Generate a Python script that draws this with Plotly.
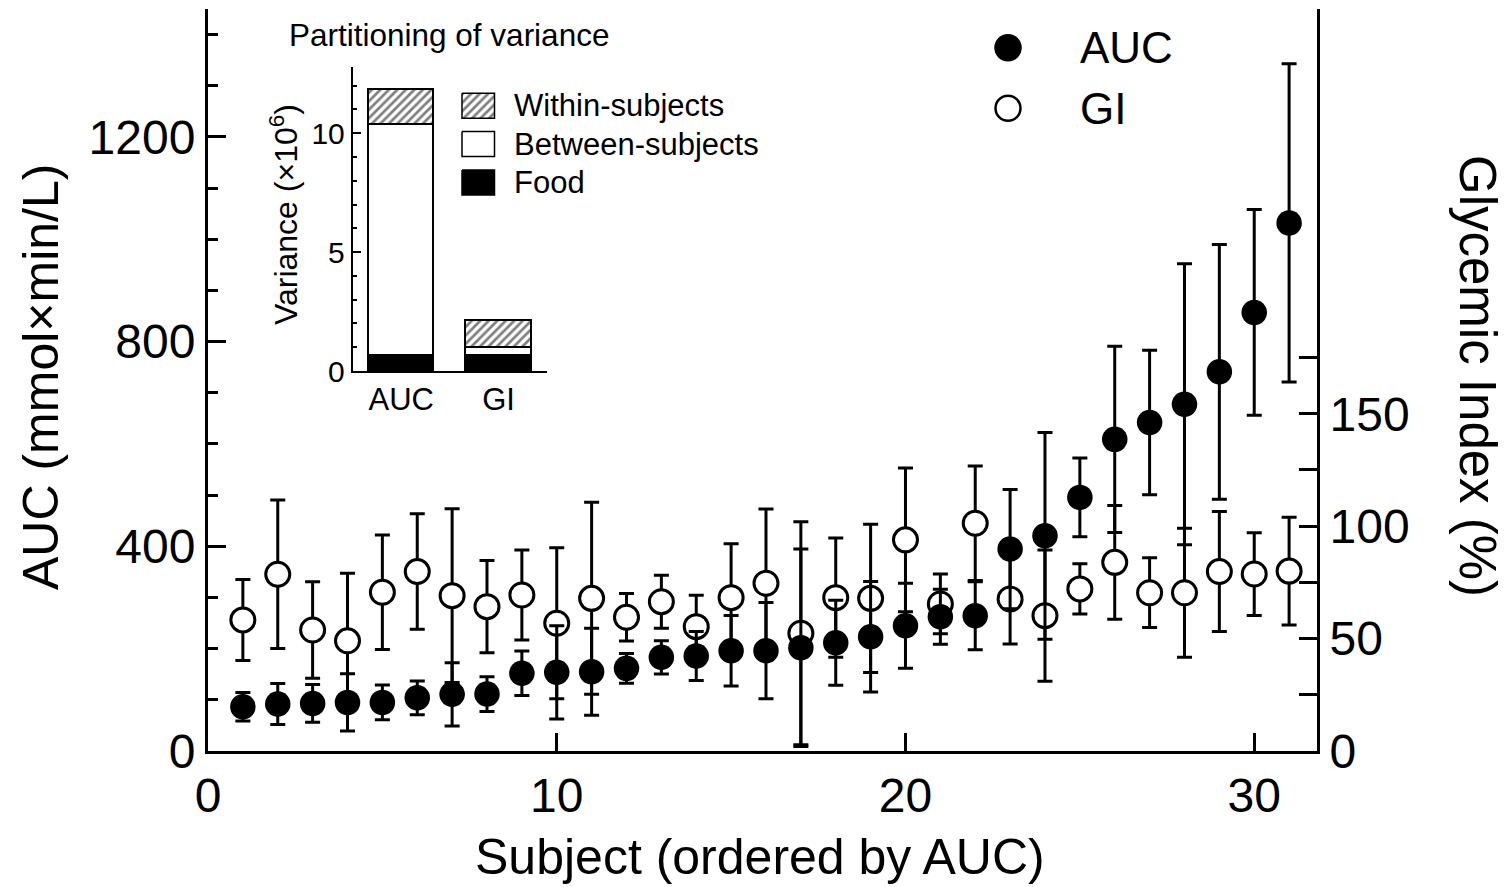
import plotly.graph_objects as go

# ---------------- data ----------------
subjects = list(range(1, 32))
auc_mean = [86.5, 91.8, 93, 95, 95, 104, 110.7, 111.3, 151.8, 153.7, 155, 161.5, 183, 185.6,
            196, 196, 201.8, 211.6, 223.3, 244.8, 262.4, 264.3, 394.6, 420.6, 495.6, 609,
            642, 677.5, 741, 857, 1032]
auc_sd = [28, 40, 37, 56, 34, 33, 62, 34, 43.5, 91, 85, 29, 32.5, 48, 69, 94, 193, 83, 108,
          83, 53.7, 66.5, 116.5, 202, 77, 182, 141, 274.5, 249, 201, 311]
gi_mean = [58.3, 78.6, 53.8, 49, 70.6, 79.8, 69.1, 64.2, 69.4, 56.8, 67.9, 59.5, 66.4, 55.3,
           68.2, 74.6, 52.4, 68.2, 67.9, 93.9, 65.4, 101.3, 67.6, 60.2, 72.1, 83.9, 70.4,
           70.4, 79.8, 78.7, 80]
gi_sd = [18, 33, 21.5, 30, 25.5, 25.7, 38.6, 20.5, 20, 33.6, 42.7, 10.6, 11.8, 14, 24, 33,
         49.6, 26.5, 33, 32, 13.3, 25.5, 20, 29.2, 11.2, 25.3, 15.5, 28.7, 26.7, 18.4, 24]

var_categories = ["AUC", "GI"]
var_food = [0.63, 0.63]
var_between = [9.75, 0.37]
var_within = [1.44, 1.12]

x_ticks = [0, 10, 20, 30]
auc_ticks = [0, 400, 800, 1200]
gi_ticks = [0, 50, 100, 150]
gi_minor_ticks = [25, 75, 125, 175]
var_ticks = [0, 5, 10]

# ---------------- layout helpers ----------------
W, H = 1510, 887
L, R, T, B = 208, 1317, 9, 751


def fx(px):
    return (px - L) / (R - L)


def fy(py):
    return (B - py) / (B - T)


FONT = "Liberation Sans, Arial, Helvetica, sans-serif"
hatch = dict(shape="/", size=6, solidity=0.45, fgcolor="black", bgcolor="white")
CLEAR = "rgba(0,0,0,0)"

fig = go.Figure()

# GI (right axis) drawn first so AUC sits on top
fig.add_trace(go.Scatter(
    x=subjects, y=gi_mean, mode="markers", xaxis="x", yaxis="y",
    error_y=dict(type="data", array=gi_sd, visible=True, color="black", thickness=3, width=7.5),
    marker=dict(symbol="circle", size=24, color="white", line=dict(color="black", width=3)),
    cliponaxis=False,
))
fig.add_trace(go.Scatter(
    x=subjects, y=auc_mean, mode="markers", xaxis="x", yaxis="y2",
    error_y=dict(type="data", array=auc_sd, visible=True, color="black", thickness=3, width=7.5),
    marker=dict(symbol="circle", size=25.5, color="black", line=dict(width=0)),
    cliponaxis=False,
))

# inset stacked bars
fig.add_trace(go.Bar(x=var_categories, y=var_food, xaxis="x3", yaxis="y3", width=0.67,
                     marker=dict(color="black", line=dict(color="black", width=1.5))))
fig.add_trace(go.Bar(x=var_categories, y=var_between, xaxis="x3", yaxis="y3", width=0.67,
                     marker=dict(color="white", line=dict(color="black", width=1.5))))
fig.add_trace(go.Bar(x=var_categories, y=var_within, xaxis="x3", yaxis="y3", width=0.67,
                     marker=dict(color="white", line=dict(color="black", width=1.5), pattern=hatch)))

# legend glyphs on a pixel overlay axis
fig.add_trace(go.Scatter(x=[1008], y=[47.7], mode="markers", xaxis="x4", yaxis="y4",
                         marker=dict(size=27.5, color="black", line=dict(width=0)), cliponaxis=False))
fig.add_trace(go.Scatter(x=[1008], y=[108.3], mode="markers", xaxis="x4", yaxis="y4",
                         marker=dict(size=25, color="white", line=dict(color="black", width=2.5)),
                         cliponaxis=False))

patch_x0, patch_x1 = 462, 494.5
patch_rows = [(105.8, "pattern"), (144, "white"), (182.5, "black")]
for yc, kind in patch_rows:
    xs = [patch_x0, patch_x1, patch_x1, patch_x0, patch_x0]
    ys = [yc - 12.5, yc - 12.5, yc + 12.5, yc + 12.5, yc - 12.5]
    kw = dict(x=xs, y=ys, mode="lines", fill="toself", xaxis="x4", yaxis="y4",
              line=dict(color="black", width=1.5))
    if kind == "pattern":
        kw.update(fillcolor="white", fillpattern=hatch)
    else:
        kw.update(fillcolor=kind)
    fig.add_trace(go.Scatter(**kw))

axis_common = dict(showgrid=False, zeroline=False, linecolor="black", tickcolor="black",
                   showline=True)

fig.update_layout(
    width=W, height=H,
    margin=dict(l=L, r=W - R, t=T, b=H - B),
    paper_bgcolor="white", plot_bgcolor=CLEAR,
    showlegend=False, barmode="stack", bargap=0,
    font=dict(family=FONT, color="black"),
    xaxis=dict(domain=[0, 1], range=[0, 31.8], tickmode="array", tickvals=x_ticks,
               ticks="inside", ticklen=18, tickwidth=3, linewidth=3,
               tickfont=dict(size=48, family=FONT), anchor="y", **axis_common),
    yaxis=dict(domain=[0, 1], side="right", range=[0, 330], tickmode="array",
               tickvals=gi_ticks, ticks="inside", ticklen=18, tickwidth=3, linewidth=3,
               minor=dict(tickmode="array", tickvals=gi_minor_ticks, ticks="inside",
                          ticklen=18, tickwidth=3, tickcolor="black"),
               tickfont=dict(size=48, family=FONT), anchor="x", **axis_common),
    yaxis2=dict(side="left", overlaying="y", range=[0, 1450], tickmode="array",
                tickvals=auc_ticks, ticks="inside", ticklen=18, tickwidth=3, linewidth=3,
                minor=dict(dtick=100, ticks="inside", ticklen=10, tickwidth=3, tickcolor="black"),
                tickfont=dict(size=48, family=FONT), anchor="x", **axis_common),
    xaxis3=dict(domain=[fx(352.5), fx(547.3)], anchor="y3", range=[-0.5, 1.5], ticks="",
                linewidth=1.5, tickfont=dict(size=31, family=FONT), **axis_common),
    yaxis3=dict(domain=[fy(371), fy(66.7)], anchor="x3", range=[0, 12.8], tickmode="array",
                tickvals=var_ticks, ticks="inside", ticklen=9, tickwidth=1.5, linewidth=1.5,
                minor=dict(dtick=1, ticks="inside", ticklen=5, tickwidth=1.5, tickcolor="black"),
                tickfont=dict(size=30, family=FONT), **axis_common),
    xaxis4=dict(domain=[0, 1], anchor="y4", range=[L, R], visible=False, fixedrange=True),
    yaxis4=dict(domain=[0, 1], anchor="x4", range=[B, T], visible=False, fixedrange=True),
)

ann = []
ann.append(dict(text="AUC (mmol×min/L)", x=fx(41), y=fy(377), xref="paper", yref="paper",
                textangle=-90, showarrow=False, font=dict(size=50), xanchor="center",
                yanchor="middle"))
ann.append(dict(text="Subject (ordered by AUC)", x=fx(760), y=fy(857), xref="paper",
                yref="paper", showarrow=False, font=dict(size=50), xanchor="center",
                yanchor="middle"))
ann.append(dict(text="Glycemic Index (%)", x=fx(1478), y=fy(376), xref="paper", yref="paper",
                textangle=90, showarrow=False, font=dict(size=51), xanchor="center",
                yanchor="middle"))
ann.append(dict(text="AUC", x=fx(1078), y=fy(47.7), xref="paper", yref="paper",
                showarrow=False, font=dict(size=44), xanchor="left", yanchor="middle"))
ann.append(dict(text="GI", x=fx(1078), y=fy(108.3), xref="paper", yref="paper",
                showarrow=False, font=dict(size=44), xanchor="left", yanchor="middle"))
ann.append(dict(text="Partitioning of variance", x=fx(287), y=fy(35), xref="paper",
                yref="paper", showarrow=False, font=dict(size=31.5), xanchor="left",
                yanchor="middle"))
ann.append(dict(text="Variance (×10<sup>6</sup>)", x=fx(284), y=fy(215), xref="paper",
                yref="paper", textangle=-90, showarrow=False, font=dict(size=32),
                xanchor="center", yanchor="middle"))
for (yc, _), label in zip(patch_rows, ["Within-subjects", "Between-subjects", "Food"]):
    ann.append(dict(text=label, x=fx(512), y=fy(yc), xref="paper", yref="paper",
                    showarrow=False, font=dict(size=31), xanchor="left", yanchor="middle"))
fig.update_layout(annotations=ann)

fig.write_html("out.html")
